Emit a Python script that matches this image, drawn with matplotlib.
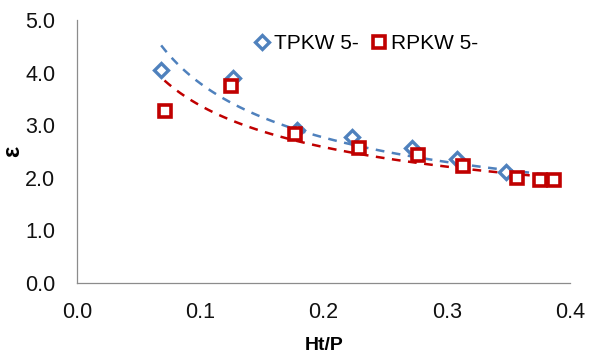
import numpy as np
import matplotlib
matplotlib.use('Agg')
import matplotlib.pyplot as plt
from matplotlib.ticker import FormatStrFormatter

plt.rcParams['font.family'] = ['Liberation Sans', 'DejaVu Sans']

# data
tp_x = [0.068, 0.126, 0.178, 0.223, 0.272, 0.308, 0.3485]
tp_y = [4.06, 3.89, 2.90, 2.78, 2.57, 2.36, 2.11]
rp_x = [0.0715, 0.125, 0.177, 0.229, 0.277, 0.313, 0.357, 0.376, 0.387]
rp_y = [3.28, 3.74, 2.83, 2.56, 2.44, 2.22, 1.99, 1.95, 1.95]

# power trendlines y = a * x^b (as drawn in the picture), with x range
tp_trend = (1.330, -0.455, 0.068, 0.386)
rp_trend = (1.394, -0.3835, 0.0707, 0.39)

blue = '#4F81BD'
red = '#C00000'

fig, ax = plt.subplots(figsize=(5.96, 3.59), dpi=100)
fig.subplots_adjust(left=0.130, right=0.956, top=0.944, bottom=0.212)

for (a, b, x0, x1), c in [(tp_trend, blue), (rp_trend, red)]:
    xs = np.linspace(x0, x1, 100)
    ax.plot(xs, a * xs ** b, '--', color=c, lw=1.8, dashes=(3.5, 3))

ax.plot(tp_x, tp_y, 'D', mfc='white', mec=blue, mew=2.4, ms=7, label='TPKW 5-')
ax.plot(rp_x, rp_y, 's', mfc='white', mec=red, mew=2.6, ms=8.5, label='RPKW 5-')

ax.set_xlim(0, 0.4)
ax.set_ylim(0, 5)
ax.set_xticks([0, 0.1, 0.2, 0.3, 0.4])
ax.set_yticks([0, 1, 2, 3, 4, 5])
ax.xaxis.set_major_formatter(FormatStrFormatter('%.1f'))
ax.yaxis.set_major_formatter(FormatStrFormatter('%.1f'))
ax.tick_params(length=0, labelsize=15.5, colors='#111111')
ax.tick_params(axis='x', pad=14)
ax.tick_params(axis='y', pad=16)
for s in ['top', 'right']:
    ax.spines[s].set_visible(False)
for s in ['left', 'bottom']:
    ax.spines[s].set_color('#8c8c8c')
    ax.spines[s].set_linewidth(0.9)

ax.set_xlabel('Ht/P', fontsize=14, fontweight='bold', labelpad=10)
ax.set_ylabel('ε', fontsize=17, fontweight='bold')
ax.yaxis.set_label_coords(-0.108, 0.5)

ax.legend(loc='center left', bbox_to_anchor=(0.337, 0.91), ncol=2, frameon=False,
          fontsize=15, handletextpad=0.05, columnspacing=0.5, handlelength=1.0,
          borderaxespad=0)

fig.savefig('out.png', dpi=100)
